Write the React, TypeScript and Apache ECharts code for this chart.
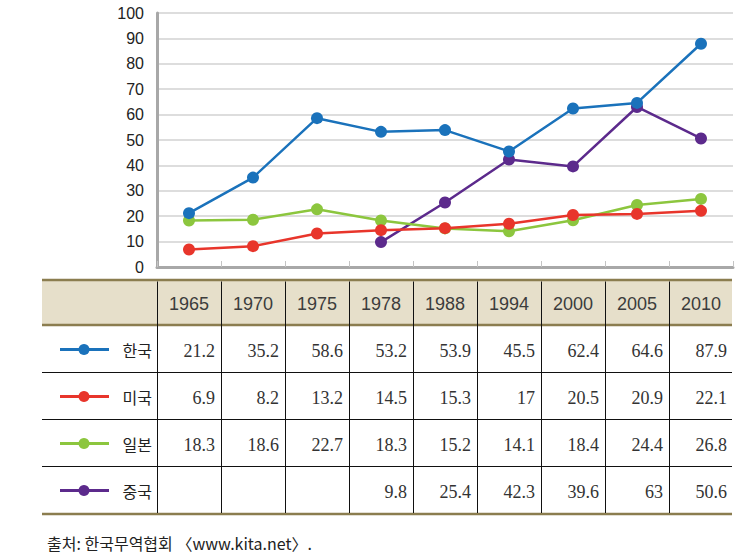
import React, { useEffect, useRef } from "react";
import * as echarts from "echarts";

const years = ["1965", "1970", "1975", "1978", "1988", "1994", "2000", "2005", "2010"];
const seriesNames = ["한국", "미국", "일본", "중국"];
const korea = [21.2, 35.2, 58.6, 53.2, 53.9, 45.5, 62.4, 64.6, 87.9];
const usa = [6.9, 8.2, 13.2, 14.5, 15.3, 17, 20.5, 20.9, 22.1];
const japan = [18.3, 18.6, 22.7, 18.3, 15.2, 14.1, 18.4, 24.4, 26.8];
const china = [null, null, null, 9.8, 25.4, 42.3, 39.6, 63, 50.6];
const colors = ["#1a72bb", "#e8352b", "#8cc63e", "#5c2a8c"];
const sourceText = "출처: 한국무역협회 〈www.kita.net〉.";

const W = 755;
const H = 557;
const gridLeft = 157;
const gridRight = 733;
const gridTop = 13;
const gridBottomY = 267;

export default function App() {
  const ref = useRef<HTMLDivElement>(null);
  useEffect(() => {
    document.body.style.margin = "0";
    if (!ref.current) return;
    const chart = echarts.init(ref.current, undefined, { renderer: "svg" });
    const allData = [korea, usa, japan, china];
    const colW = (gridRight - gridLeft) / years.length;
    const tableLeft = 42;
    const tableRight = 732;
    const headerTop = 280;
    const headerBottom = 325;
    const rowH = 47;
    const olive = "#8b7d4f";
    const g: any[] = [];
    g.push({ type: "rect", shape: { x: tableLeft, y: headerTop, width: tableRight - tableLeft, height: headerBottom - headerTop }, style: { fill: "#e6dfca" } });
    g.push({ type: "line", shape: { x1: tableLeft, y1: headerTop, x2: tableRight, y2: headerTop }, style: { stroke: olive, lineWidth: 2.5 } });
    g.push({ type: "line", shape: { x1: tableLeft, y1: headerBottom, x2: tableRight, y2: headerBottom }, style: { stroke: olive, lineWidth: 2.5 } });
    const tableBottom = headerBottom + rowH * seriesNames.length + 1;
    for (let r = 1; r < seriesNames.length; r++) {
      const y = Math.round(headerBottom + rowH * r) + 0.5;
      g.push({ type: "line", shape: { x1: tableLeft, y1: y, x2: tableRight, y2: y }, style: { stroke: "#111", lineWidth: 1 } });
    }
    g.push({ type: "line", shape: { x1: tableLeft, y1: tableBottom, x2: tableRight, y2: tableBottom }, style: { stroke: olive, lineWidth: 2.5 } });
    for (let i = 0; i < years.length; i++) {
      const x = Math.round(gridLeft + colW * i) + 0.5;
      g.push({ type: "line", shape: { x1: x, y1: headerTop + 1.5, x2: x, y2: tableBottom - 1 }, style: { stroke: "#111", lineWidth: 1 } });
      g.push({
        type: "text",
        style: {
          text: years[i], x: gridLeft + colW * (i + 0.5), y: (headerTop + headerBottom) / 2 + 1,
          fill: "#3c3c3c", font: "18px 'Liberation Sans', Arial, sans-serif",
          align: "center", verticalAlign: "middle", textAlign: "center", textVerticalAlign: "middle",
        },
      });
    }
    seriesNames.forEach((name, r) => {
      const cy = headerBottom + rowH * (r + 0.5) + 1;
      g.push({ type: "line", shape: { x1: 60, y1: cy, x2: 109, y2: cy }, style: { stroke: colors[r], lineWidth: 3 } });
      g.push({ type: "circle", shape: { cx: 84, cy, r: 5.5 }, style: { fill: colors[r] } });
      g.push({
        type: "text",
        style: {
          text: name, x: 152, y: cy, fill: "#222", font: "16px 'Noto Sans CJK KR', sans-serif",
          align: "right", verticalAlign: "middle", textAlign: "right", textVerticalAlign: "middle",
        },
      });
      allData[r].forEach((v, i) => {
        if (v === null) return;
        g.push({
          type: "text",
          style: {
            text: String(v), x: gridLeft + colW * (i + 1) - 6, y: cy + 1, fill: "#333",
            font: "18px 'Liberation Serif', 'DejaVu Serif', serif",
            align: "right", verticalAlign: "middle", textAlign: "right", textVerticalAlign: "middle",
          },
        });
      });
    });
    g.push({
      type: "text",
      style: {
        text: sourceText, x: 47, y: 543, fill: "#222", font: "16px 'Noto Sans CJK KR', sans-serif",
        align: "left", verticalAlign: "middle", textAlign: "left", textVerticalAlign: "middle",
      },
    });

    const zs = [5, 4, 3, 2];
    chart.setOption({
      animation: false,
      grid: { left: gridLeft, right: W - gridRight, top: gridTop, bottom: H - gridBottomY, containLabel: false },
      xAxis: {
        type: "category",
        data: years,
        boundaryGap: true,
        axisLine: { lineStyle: { color: "#a8a8a8", width: 3 } },
        axisTick: { show: true, inside: true, length: 6, lineStyle: { color: "#c4c4c4", width: 1 } },
        axisLabel: { show: false },
      },
      yAxis: {
        type: "value",
        min: 0,
        max: 100,
        interval: 10,
        axisLine: { show: true, lineStyle: { color: "#a8a8a8", width: 3 } },
        axisTick: { show: false },
        axisLabel: { color: "#222", fontSize: 16, fontFamily: "'Liberation Sans', Arial, sans-serif", margin: 13 },
        splitLine: { lineStyle: { color: "#d2d2d2", width: 1.5 } },
      },
      series: allData.map((d, r) => ({
        name: seriesNames[r],
        type: "line",
        data: d,
        z: zs[r],
        symbol: "circle",
        symbolSize: 12,
        itemStyle: { color: colors[r] },
        lineStyle: { color: colors[r], width: 2.5 },
      })),
      graphic: g,
    });
    return () => chart.dispose();
  }, []);
  return <div ref={ref} style={{ width: W, height: H }} />;
}
